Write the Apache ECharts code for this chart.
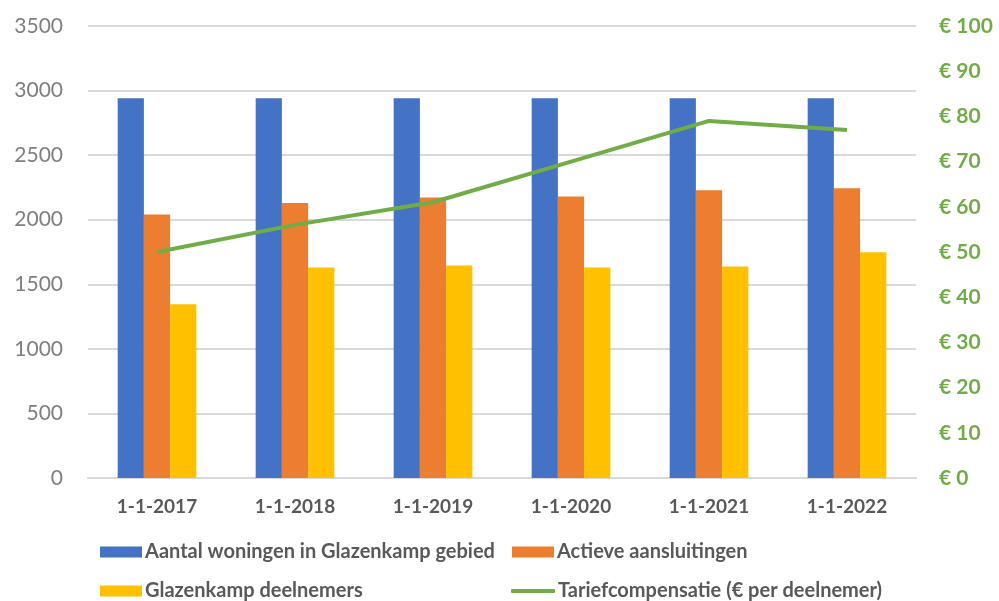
<!DOCTYPE html>
<html>
<head>
<meta charset="utf-8">
<script src="https://cdn.jsdelivr.net/npm/echarts@6/dist/echarts.min.js"></script>
<style>
  html, body { margin: 0; padding: 0; background: #fff; }
  #main { width: 999px; height: 601px; }
</style>
</head>
<body>
<div id="main"></div>
<script>
// data
var categories = ['1-1-2017', '1-1-2018', '1-1-2019', '1-1-2020', '1-1-2021', '1-1-2022'];
var woningen = [2940, 2940, 2940, 2940, 2940, 2940];
var aansluitingen = [2040, 2130, 2172, 2180, 2229, 2244];
var deelnemers = [1345, 1630, 1645, 1630, 1637, 1748];
var tarief = [50, 56, 61, 70, 79, 77];

var names = [
    'Aantal woningen in Glazenkamp gebied',
    'Actieve aansluitingen',
    'Glazenkamp deelnemers',
    'Tariefcompensatie (€ per deelnemer)'
];

var font = 'Lato';

function legendAt(name, left, top, isLine) {
    return {
        data: [name],
        left: left,
        top: top,
        itemWidth: isLine ? 44 : 42,
        itemHeight: isLine ? 4 : 11,
        itemGap: 0,
        padding: 0,
        icon: isLine ? 'roundRect' : 'rect',
        textStyle: { fontFamily: font, fontSize: 20, fontWeight: 'bold', color: '#595959', padding: [0, 0, 0, -2] }
    };
}

var myChart = echarts.init(document.getElementById('main'));

var option = {
    animation: false,
    color: ['#4472c4', '#ed7d31', '#ffc000', '#70ad47'],
    legend: [
        legendAt(names[0], 100, 542, false),
        legendAt(names[1], 512, 542, false),
        legendAt(names[2], 100, 581, false),
        legendAt(names[3], 511, 581, true)
    ],
    grid: { left: 88, right: 83, top: 26, bottom: 123 },
    xAxis: {
        type: 'category',
        data: categories,
        axisLine: { lineStyle: { color: '#d9d9d9', width: 2 } },
        axisTick: { show: false },
        axisLabel: { margin: 19, fontFamily: font, fontSize: 19, fontWeight: 'bold', color: '#595959' }
    },
    yAxis: [{
        type: 'value',
        min: 0,
        max: 3500,
        interval: 500,
        axisLine: { show: false },
        axisTick: { show: false },
        splitLine: { lineStyle: { color: '#d9d9d9', width: 2 } },
        axisLabel: {
            margin: 25,
            fontFamily: font,
            fontSize: 21,
            color: '#7f7f7f',
            formatter: function (v) { return String(v); }
        }
    }, {
        type: 'value',
        min: 0,
        max: 100,
        interval: 10,
        axisLine: { show: false },
        axisTick: { show: false },
        splitLine: { show: false },
        axisLabel: {
            margin: 23,
            fontFamily: font,
            fontSize: 21,
            fontWeight: 'bold',
            color: '#70ad47',
            formatter: function (v) { return '€ ' + v; }
        }
    }],
    series: [{
        name: names[0],
        type: 'bar',
        data: woningen,
        barGap: '0%',
        barCategoryGap: '43%'
    }, {
        name: names[1],
        type: 'bar',
        data: aansluitingen
    }, {
        name: names[2],
        type: 'bar',
        data: deelnemers
    }, {
        name: names[3],
        type: 'line',
        yAxisIndex: 1,
        data: tarief,
        symbol: 'none',
        lineStyle: { width: 4, color: '#70ad47' },
        itemStyle: { color: '#70ad47' }
    }]
};

myChart.setOption(option);
</script>
</body>
</html>
